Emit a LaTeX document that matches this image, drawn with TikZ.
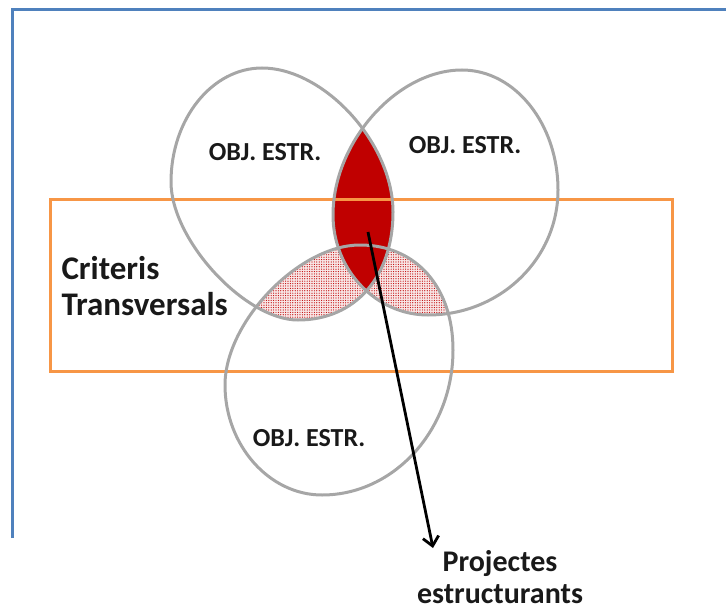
\documentclass[tikz,border=0pt]{standalone}
\usepackage{fontspec}
\setmainfont{Carlito}
\usetikzlibrary{patterns.meta,arrows.meta}
\definecolor{lensred}{RGB}{192,0,0}
\definecolor{ellgray}{RGB}{166,166,166}
\definecolor{rectorange}{RGB}{247,150,70}
\definecolor{frameblue}{RGB}{79,129,189}
\def\shapeA{(262,68) .. controls (324,68) and (393,143) .. (393,212) .. controls (393,277) and (355,320) .. (298,320) .. controls (245,320) and (171,240) .. (171,182) .. controls (171,119) and (212,68) .. cycle}
\def\shapeB{(462,70) .. controls (515,70) and (558,124) .. (558,190) .. controls (558,259) and (500,315) .. (428,315) .. controls (376,315) and (333,270) .. (333,215) .. controls (333,142) and (397,70) .. cycle}
\def\shapeC{(360,245) .. controls (416,245) and (453,287) .. (453,350) .. controls (453,430) and (394,495) .. (322,495) .. controls (269,495) and (225,445) .. (225,385) .. controls (225,322) and (299,245) .. cycle}
\tikzset{
  ell/.style={draw=ellgray, line width=3pt},
  dotfill/.style={fill={rgb,255:red,248;green,230;blue,230}},
  dotpat/.style={pattern={Dots[radius=0.6pt,distance=2.4pt]}, pattern color=lensred},
  objlabel/.style={font=\bfseries\fontsize{26}{28}\selectfont, text=black!90},
  biglabel/.style={font=\bfseries\fontsize{33}{36}\selectfont, text=black!90, align=left},
  projlabel/.style={font=\bfseries\fontsize{30}{32}\selectfont, text=black!90, align=center, inner sep=0pt},
}
\begin{document}
\begin{tikzpicture}[x=1pt,y=-1pt]
\useasboundingbox (0,0) rectangle (726,610);
% frame
\draw[frameblue, line width=3pt] (12,538) -- (12,10) -- (730,10);
% dotted regions: A cap C, B cap C
\begin{scope}
  \clip \shapeC;
  \begin{scope}
    \clip \shapeA;
    \fill[dotfill] (150,200) rectangle (600,400);
    \fill[dotpat] (150,200) rectangle (600,400);
  \end{scope}
  \begin{scope}
    \clip \shapeB;
    \fill[dotfill] (150,200) rectangle (600,400);
    \fill[dotpat] (150,200) rectangle (600,400);
  \end{scope}
\end{scope}
% lens A cap B
\begin{scope}
  \clip \shapeA;
  \fill[lensred] \shapeB;
\end{scope}
% orange rectangle
\draw[rectorange, line width=3pt] (50,199) rectangle (672,371);
% outlines
\draw[ell] \shapeA;
\draw[ell] \shapeB;
\draw[ell] \shapeC;
% labels
\node[objlabel] (oa) at (265,152) {OBJ. ESTR.};
\node[objlabel] (ob) at (465,145) {OBJ. ESTR.};
\node[objlabel] (oc) at (309,438) {OBJ. ESTR.};
\node[biglabel, anchor=west] (crit) at (58,286) {Criteris\\Transversals};
\node[projlabel] (proj) at (500,577) {Projectes\\estructurants};
% arrow
\coordinate (lensc) at (368,232);
\coordinate (tip) at (433,548);
\draw[line width=2.8pt, -{Straight Barb[length=9pt,width=16pt,line width=2.8pt]}] (lensc) -- (tip);
\end{tikzpicture}
\end{document}
